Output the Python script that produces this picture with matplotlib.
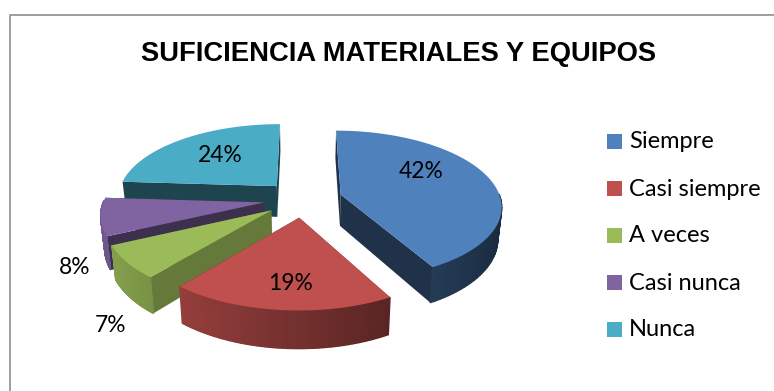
import numpy as np
import matplotlib
matplotlib.use('Agg')
import matplotlib.pyplot as plt
from matplotlib.patches import Polygon, Rectangle

title = 'SUFICIENCIA MATERIALES Y EQUIPOS'
categories = ['Siempre', 'Casi siempre', 'A veces', 'Casi nunca', 'Nunca']
values = [42, 19, 7, 8, 24]
colors = ['#4F81BD', '#C0504D', '#9BBB59', '#8064A2', '#4BACC6']
label_pos = [(421, 172), (290, 283), (111, 325), (75, 268), (220, 155)]

# pie geometry, in pixels
cx, cy = 303, 199
rx, ry = 160, 74
persp = 0.14
explode = 0.245
depth = 31.5
wall_shade = [0.39, 0.45, 0.65, 0.48, 0.40]


def project(u, v, low=False):
    s = 1 / (1 - persp * v)
    x = cx + rx * u * s
    y = cy + ry * v * s
    if low:
        x = cx + (x - cx) * 0.98
        y = y + depth * s
    return x, y


def shade(color, k):
    return tuple(c * k for c in matplotlib.colors.to_rgb(color))


fig = plt.figure(figsize=(7.74, 3.91), dpi=100)
ax = fig.add_axes([0, 0, 1, 1])
ax.set_xlim(0, 774)
ax.set_ylim(391, 0)
ax.axis('off')

ax.plot([9.5, 9.5, 774], [391, 15, 15], color='#969696', lw=1.3)

ax.text(399, 54, title, ha='center', va='center', fontsize=19.75, fontweight='bold',
        family='Liberation Sans', color='black')

# angles clockwise from twelve o'clock
edges = np.cumsum([0] + values) / sum(values) * 2 * np.pi
slices = [(edges[i], edges[i + 1], i) for i in range(len(values))]

# back slices first so the front ones cover them
for i in [4, 3, 2, 1, 0]:
    a0, a1, _ = slices[i]
    mid = (a0 + a1) / 2
    ou, ov = explode * np.sin(mid), -explode * np.cos(mid)
    t = np.linspace(a0, a1, 80)
    us = ou + np.sin(t)
    vs = ov - np.cos(t)
    col = colors[i]
    z = 2 + (4 - i)

    # the two flat walls running from the apex to the rim
    for ue, ve in [(us[0], vs[0]), (us[-1], vs[-1])]:
        pts = [project(ou, ov), project(ue, ve), project(ue, ve, True), project(ou, ov, True)]
        ax.add_patch(Polygon(pts, closed=True, fc=shade(col, wall_shade[i]), ec='none', zorder=z))

    # curved rim, darker toward the right, front half only
    for j in range(len(t) - 1):
        if np.cos(t[j]) > 0.02:
            continue
        pts = [project(us[j], vs[j]), project(us[j + 1], vs[j + 1]),
               project(us[j + 1], vs[j + 1], True), project(us[j], vs[j], True)]
        k = 0.6 - 0.28 * np.sin(t[j])
        ax.add_patch(Polygon(pts, closed=True, fc=shade(col, k), ec=shade(col, k), lw=1.0, zorder=z))

    top = [project(ou, ov)] + [project(u, v) for u, v in zip(us, vs)]
    ax.add_patch(Polygon(top, closed=True, fc=col, ec='none', zorder=z))

# percentage labels
for v, (x, y) in zip(values, label_pos):
    ax.text(x, y, f'{v}%', ha='center', va='center', fontsize=16.4, family='Lato', color='black', zorder=20)

# legend
for i, name in enumerate(categories):
    y = 141.5 + i * 47
    ax.add_patch(Rectangle((607, y - 7.5), 15, 15, fc=colors[i], ec='none'))
    ax.text(629, y + 0.5, name, ha='left', va='center', fontsize=17, family='Lato', color='black')

fig.savefig('out.png', dpi=100)
